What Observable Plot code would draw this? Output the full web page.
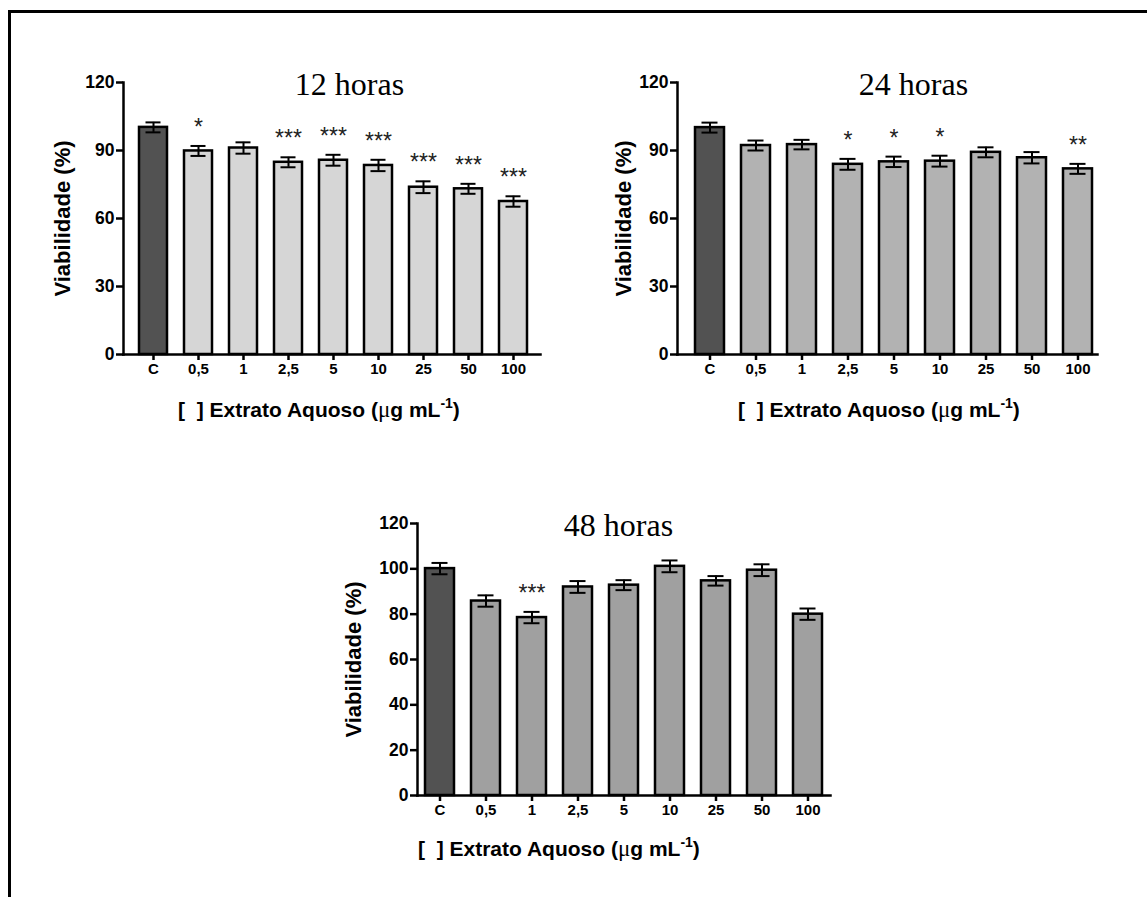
<!DOCTYPE html>
<html><head><meta charset="utf-8">
<script src="https://cdn.jsdelivr.net/npm/d3@7"></script>
<script src="https://cdn.jsdelivr.net/npm/@observablehq/plot@0.6"></script>
<style>
body{margin:0;background:#fff;}
#page{position:relative;width:1147px;height:897px;overflow:hidden;background:#fff;}
#border{position:absolute;left:8px;top:10px;width:1200px;height:1000px;border-top:3px solid #000;border-left:3px solid #000;}
</style></head><body><div id="page"><div id="border"></div></div>
<script>
const categories = ["C","0,5","1","2,5","5","10","25","50","100"];
const mean12 = [100.2, 89.8, 91.1, 84.8, 85.7, 83.4, 73.8, 73.1, 67.5];
const sem12  = [2.2, 2.2, 2.5, 2.2, 2.4, 2.5, 2.6, 2.2, 2.3];
const stars12 = ["", "*", "", "***", "***", "***", "***", "***", "***"];
const mean24 = [100.1, 92.2, 92.6, 83.9, 85.0, 85.3, 89.2, 86.8, 81.9];
const sem24  = [2.2, 2.2, 2.1, 2.4, 2.3, 2.4, 2.2, 2.5, 2.2];
const stars24 = ["", "", "", "*", "*", "*", "", "", "**"];
const mean48 = [100.1, 85.8, 78.5, 92.0, 92.8, 101.1, 94.7, 99.4, 80.0];
const sem48  = [2.5, 2.5, 2.5, 2.6, 2.2, 2.6, 2.1, 2.6, 2.5];
const stars48 = ["", "", "***", "", "", "", "", "", ""];
const titles = ["12 horas", "24 horas", "48 horas"];
const yTicksA = [0, 30, 60, 90, 120];
const yTicksB = [0, 20, 40, 60, 80, 100, 120];
const yLabel = "Viabilidade (%)";

const CTRL = "#525252";
const SANS = "'Liberation Sans', Arial, sans-serif";
const SERIF = "'Liberation Serif', 'Times New Roman', serif";

function chart(cfg) {
  const data = categories.map((c, i) => ({cat: c, mean: cfg.mean[i], sem: cfg.sem[i], star: cfg.stars[i], ctrl: i === 0}));
  const plot = Plot.plot({
    width: cfg.width, height: cfg.height,
    marginLeft: cfg.ml, marginRight: cfg.mr, marginTop: cfg.mt, marginBottom: cfg.mb,
    style: {fontFamily: SANS, color: "#000", background: "transparent", overflow: "visible"},
    x: {domain: categories, paddingInner: 0.37, paddingOuter: cfg.po, align: cfg.align, label: null, axis: null},
    y: {domain: [0, 120], label: null, axis: null},
    marks: [
      Plot.barY(data, {x: "cat", y: "mean", fill: d => d.ctrl ? CTRL : cfg.fill, stroke: "#000", strokeWidth: 2.5}),
      Plot.ruleX(data, {x: "cat", y1: d => d.mean - d.sem, y2: d => d.mean + d.sem, stroke: "#000", strokeWidth: 2}),
      Plot.tickY(data, {x: "cat", y: d => d.mean + d.sem, insetLeft: 6.5, insetRight: 6.5, stroke: "#000", strokeWidth: 2}),
      Plot.tickY(data, {x: "cat", y: d => d.mean - d.sem, insetLeft: 6.5, insetRight: 6.5, stroke: "#000", strokeWidth: 2}),
      Plot.text(data.filter(d => d.star), {x: "cat", y: d => d.mean + d.sem, text: "star", lineAnchor: "bottom", textAnchor: "middle", dy: -11, fontSize: 23, fill: "#222", fontFamily: SANS}),
      Plot.frame({anchor: "left", stroke: "#000", strokeWidth: 2.5}),
      Plot.frame({anchor: "bottom", stroke: "#000", strokeWidth: 2.5}),
      Plot.axisY({ticks: cfg.ticks, tickSize: 7, tickPadding: 2, fontSize: 17.5, fontWeight: "bold", stroke: "#000", strokeWidth: 2.5, label: null}),
      Plot.axisX({tickSize: 6, tickPadding: 3, fontSize: 15, fontWeight: "bold", stroke: "#000", strokeWidth: 2.5, label: null}),
      Plot.text([cfg.title], {frameAnchor: "top", textAnchor: "middle", dx: cfg.titleDx, dy: 2, fontFamily: SERIF, fontSize: 32, lineAnchor: "middle"}),
      Plot.text([yLabel], {frameAnchor: "left", textAnchor: "middle", rotate: -90, dx: cfg.yLabelDx, fontSize: 22, fontWeight: "bold", lineAnchor: "middle"})
    ]
  });
  const svg = d3.select(plot);
  svg.selectAll('[aria-label="y-axis tick label"]').attr("font-size", 17.5).style("font-size", "17.5px").style("font-weight", "bold");
  svg.selectAll('[aria-label="y-axis tick label"] text').style("font-size", "17.5px");
  svg.selectAll('[aria-label="x-axis tick label"]').attr("font-size", 15).style("font-size", "15px").style("font-weight", "bold");
  svg.selectAll('[aria-label="x-axis tick label"] text').style("font-size", "15px");
  const t = svg.append("text").attr("x", cfg.xtX).attr("y", cfg.xtY).attr("text-anchor", "start")
    .attr("font-size", 21).attr("font-weight", "bold").attr("font-family", SANS).attr("fill", "#000");
  t.append("tspan").attr("xml:space", "preserve").text("[  ] Extrato Aquoso (");
  t.append("tspan").attr("font-family", SERIF).attr("font-weight", "normal").attr("font-size", 23).text("\u03bc");
  t.append("tspan").text("g mL");
  t.append("tspan").attr("dy", -9).attr("font-size", 14).text("-1");
  t.append("tspan").attr("dy", 9).text(")");
  plot.style.position = "absolute";
  plot.style.left = cfg.left + "px";
  plot.style.top = cfg.top + "px";
  document.getElementById("page").appendChild(plot);
}

// 12 horas
chart({mean: mean12, sem: sem12, stars: stars12, fill: "#d6d6d6", title: titles[0], ticks: yTicksA,
  left: 40, top: 50, width: 520, height: 380, ml: 83, mr: 20, mt: 32, mb: 76, po: 0.22, align: 0.55,
  titleDx: 17.5, yLabelDx: -60.5, xtX: 138, xtY: 367});
// 24 horas
chart({mean: mean24, sem: sem24, stars: stars24, fill: "#b2b2b2", title: titles[1], ticks: yTicksA,
  left: 590, top: 50, width: 530, height: 380, ml: 87, mr: 23, mt: 32, mb: 76, po: 0.25, align: 0.78,
  titleDx: 26, yLabelDx: -54, xtX: 148, xtY: 367});
// 48 horas
chart({mean: mean48, sem: sem48, stars: stars48, fill: "#a0a0a0", title: titles[2], ticks: yTicksB,
  left: 330, top: 490, width: 520, height: 360, ml: 87, mr: 20, mt: 33, mb: 55, po: 0.17, align: 0.47,
  titleDx: -5.5, yLabelDx: -64, xtX: 88, xtY: 366});
</script>
</body></html>
